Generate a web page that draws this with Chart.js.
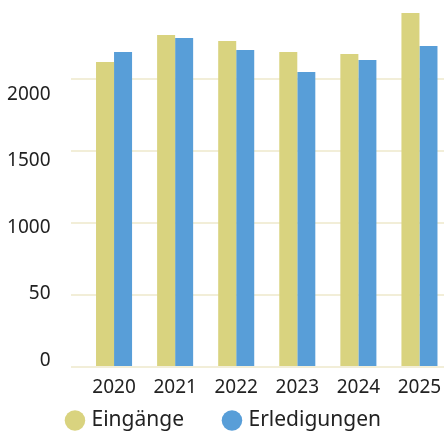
<!DOCTYPE html>
<html>
<head>
<meta charset="utf-8">
<script src="https://cdn.jsdelivr.net/npm/chart.js@4"></script>
<style>
  html, body { margin: 0; padding: 0; overflow: hidden; background: #fff; }
  #wrap { position: absolute; left: 0; top: 0; width: 450px; height: 480px; }
</style>
</head>
<body>
<div id="wrap"><canvas id="myChart"></canvas></div>
<script>
const years = ['2020', '2021', '2022', '2023', '2024', '2025'];
const eingaenge = [2116, 2303, 2262, 2185, 2171, 2456];
const erledigungen = [2185, 2282, 2199, 2046, 2130, 2227];
const yTickValues = [0, 500, 1000, 1500, 2000];
const yTickLabels = ['0', '50', '1000', '1500', '2000'];

Chart.defaults.font.family = "'Noto Sans', sans-serif";
Chart.defaults.color = '#222';

const setTicks = (scale) => {
  scale.ticks = yTickValues.map(v => ({ value: v }));
};

// legend padding is wide between items, so pull the legend box up under the axis
const legendUp = {
  id: 'legendUp',
  afterLayout(chart) {
    const l = chart.legend;
    const d = l.top - (chart.chartArea.bottom + 1);
    l.top -= d;
    l.bottom -= d;
  }
};

const options = {
  type: 'bar',
  data: {
    labels: years,
    datasets: [
      {
        label: 'Eingänge',
        data: eingaenge,
        backgroundColor: '#d9d37f',
        borderWidth: 0,
        categoryPercentage: 0.59,
        barPercentage: 1,
        yAxisID: 'y'
      },
      {
        label: 'Erledigungen',
        data: erledigungen,
        backgroundColor: '#589ed8',
        borderWidth: 0,
        categoryPercentage: 0.59,
        barPercentage: 1,
        yAxisID: 'y'
      }
    ]
  },
  options: {
    responsive: true,
    maintainAspectRatio: false,
    animation: false,
    layout: { padding: { top: 6.6, left: 0, right: 0, bottom: 0 } },
    plugins: {
      tooltip: { enabled: false },
      legend: {
        position: 'bottom',
        labels: {
          usePointStyle: true,
          pointStyle: 'circle',
          boxWidth: 12,
          boxHeight: 14.5,
          padding: 42,
          color: '#222',
          font: { size: 21 }
        }
      }
    },
    scales: {
      x: {
        type: 'category',
        grid: { display: false },
        border: { display: false },
        ticks: { padding: 1, maxRotation: 0, autoSkip: false, font: { size: 19 } },
        afterFit: (s) => { s.height = 40; s.paddingLeft = 0; s.paddingRight = 0; }
      },
      // tick labels only
      yLabels: {
        type: 'linear',
        position: 'left',
        weight: 1,
        min: -50.4,
        max: 2659.4,
        grid: { display: false },
        border: { display: false },
        afterBuildTicks: setTicks,
        ticks: {
          padding: 12.5,
          font: { size: 19 },
          callback: (v, i) => yTickLabels[i]
        },
        afterFit: (s) => { s.width = 71; s.paddingTop = 0; s.paddingBottom = 0; }
      },
      // grid lines for the bars
      y: {
        type: 'linear',
        position: 'left',
        weight: 0,
        min: 0,
        max: 2500,
        afterBuildTicks: setTicks,
        ticks: { display: false },
        grid: { color: '#f2eed8', lineWidth: 2, tickLength: 12.5 },
        border: { display: false },
        afterFit: (s) => { s.width = 12.5; s.paddingTop = 0; s.paddingBottom = 0; }
      }
    }
  },
  plugins: [legendUp]
};

const ctx = document.getElementById('myChart').getContext('2d');
const myChart = new Chart(ctx, options);
</script>
</body>
</html>
